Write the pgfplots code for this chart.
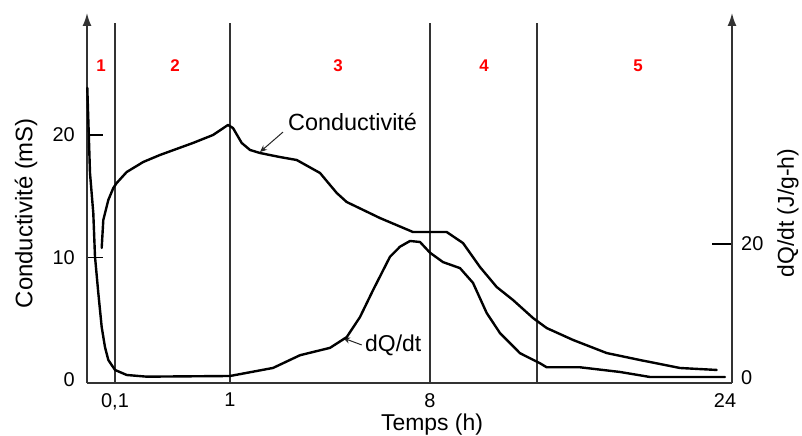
\documentclass[border=0pt]{standalone}
\usepackage{fontspec}
\setmainfont{Liberation Sans}
\usepackage{pgfplots}
\usepackage{pgfplotstable}
\pgfplotsset{compat=1.18}
\usetikzlibrary{arrows.meta}

% Conductivity (mS); x = position along the (non-linear) time axis
\pgfplotstableread{
x y
14.7 10.78
16.3 13.06
21.3 14.69
26.3 15.67
29.7 16.08
39.7 16.98
56.3 17.80
73 18.37
106 19.35
126 20.0
141 20.82
146 20.57
154.7 19.35
163 18.78
173 18.53
193 18.20
209.7 17.96
233 16.90
249.7 15.27
259.7 14.53
293 13.22
326 12.08
359.7 12.08
376 11.18
393 9.22
409.7 7.59
426 6.53
446 5.06
459.7 4.24
486 3.27
519.7 2.20
553 1.63
593 0.98
629.7 0.82
}\cond

% dQ/dt (J/g-h)
\pgfplotstableread{
x y
0.3 43.3
3 30.6
6.3 24.6
8 18.1
11.3 12.7
14.7 7.6
18 4.6
21.3 2.7
28 1.2
39.7 0.45
59.7 0.2
143 0.3
186 1.5
213 3.4
243 4.5
259.7 6.1
273 9.1
286 13.1
303 18.1
313 19.6
323 20.45
333 20.3
343 18.7
356 17.3
373 16.4
386 14.2
399.7 9.7
413 6.7
433 3.7
453 2.2
459.7 1.6
493 1.6
533 0.9
563 0.15
638 0.15
}\dq

\begin{document}
\begin{tikzpicture}
\useasboundingbox (-87bp,-53bp) rectangle (715bp,383bp);
\begin{axis}[
  at={(0,0)}, anchor=south west,
  scale only axis, width=645bp, height=370bp,
  xmin=0, xmax=645, ymin=-0.245, ymax=29.96,
  clip=false,
  axis x line=bottom, axis y line=left,
  x axis line style={-, line width=1.6bp, black!80},
  y axis line style={-{Latex[length=13bp,width=9bp]}, line width=1.6bp, black!80},
  xtick={28,143,343,638}, xticklabels={{0,1},1,8,24},
  x tick style={draw=none},
  ytick={10,20},
  extra y ticks={0},
  extra y tick style={y tick style={draw=none}},
  y tick style={line width=1.2bp, black},
  tick align=inside, major tick length=16bp,
  /pgf/number format/assume math mode=true,
  tick label style={font=\fontsize{20}{24}\selectfont, black},
  xticklabel style={anchor=north, inner sep=0pt, yshift=-10bp},
  yticklabel style={anchor=east, inner sep=0pt, xshift=-12bp},
  xlabel={Temps (h)},
  xlabel style={at={([yshift=-31bp]axis cs:345,-0.245)}, anchor=north, inner sep=0pt, font=\fontsize{23}{27}\selectfont},
  ylabel={Conductivité (mS)},
  ylabel style={at={([xshift=-61bp]axis description cs:0,0.459)}, anchor=center, inner sep=0pt, font=\fontsize{24}{28}\selectfont},
]
\addplot[black!80, line width=1.5bp] coordinates {(28,-0.245) (28,29.14)};
\addplot[black!80, line width=1.5bp] coordinates {(143,-0.245) (143,29.14)};
\addplot[black!80, line width=1.5bp] coordinates {(343,-0.245) (343,29.14)};
\addplot[black!80, line width=1.5bp] coordinates {(450,-0.245) (450,29.14)};
\addplot[black, line width=2.4bp, line join=round, line cap=round] table[x=x,y=y] {\cond};
\node[red, font=\fontsize{17}{20}\selectfont\bfseries] at (axis cs:14,25.63) {1};
\node[red, font=\fontsize{17}{20}\selectfont\bfseries] at (axis cs:88,25.63) {2};
\node[red, font=\fontsize{17}{20}\selectfont\bfseries] at (axis cs:251,25.63) {3};
\node[red, font=\fontsize{17}{20}\selectfont\bfseries] at (axis cs:397,25.63) {4};
\node[red, font=\fontsize{17}{20}\selectfont\bfseries] at (axis cs:551,25.63) {5};
\node[font=\fontsize{23.5}{27}\selectfont, anchor=west, inner sep=0pt] at (axis cs:201,21.06) {Conductivité};
\draw[-{Stealth[length=7bp,width=6bp]}, line width=1bp, black!85] (axis cs:196,20.24) -- (axis cs:173,18.61);
\node[font=\fontsize{23}{27}\selectfont, anchor=west, inner sep=0pt] at (axis cs:278,2.86) {dQ/dt};
\draw[-{Stealth[length=7bp,width=6bp]}, line width=1bp, black!85] (axis cs:274.7,2.86) -- (axis cs:256,3.43);
\end{axis}
\begin{axis}[
  at={(0,0)}, anchor=south west,
  scale only axis, width=645bp, height=370bp,
  xmin=0, xmax=645, ymin=-0.746, ymax=54.48,
  clip=false,
  axis x line=none, axis y line=right,
  y axis line style={-{Latex[length=13bp,width=9bp]}, line width=1.6bp, black!80},
  ytick={20},
  extra y ticks={0},
  extra y tick style={y tick style={draw=none}},
  y tick style={line width=1.2bp, black},
  tick align=inside, major tick length=20bp,
  /pgf/number format/assume math mode=true,
  tick label style={font=\fontsize{20}{24}\selectfont, black},
  yticklabel style={anchor=west, inner sep=0pt, xshift=9bp},
  ylabel={dQ/dt (J/g-h)},
  ylabel style={at={([xshift=56bp]axis description cs:1,0.459)}, anchor=center, rotate=0, inner sep=0pt, font=\fontsize{23}{27}\selectfont},
]
\addplot[black, line width=2.4bp, line join=round, line cap=round] table[x=x,y=y] {\dq};
\end{axis}
\end{tikzpicture}
\end{document}
